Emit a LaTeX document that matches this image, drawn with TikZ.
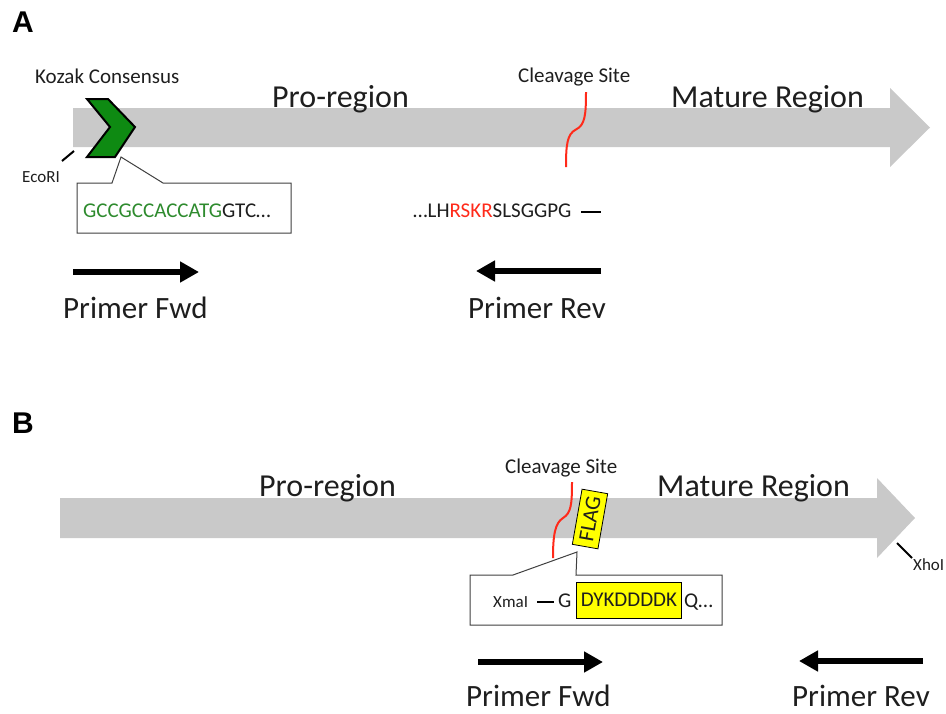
\documentclass[tikz,border=0pt]{standalone}
\usepackage{fontspec}
\setmainfont{Carlito}
\newfontfamily\arialfont{Liberation Sans}
\usetikzlibrary{arrows.meta}
\definecolor{bodygray}{HTML}{C9C9C9}
\definecolor{seqgreen}{HTML}{2E8B2E}
\definecolor{chevgreen}{HTML}{0E8A12}
\definecolor{cutred}{HTML}{FF2A1A}
\definecolor{flagyellow}{HTML}{FFFF00}
\definecolor{txt}{HTML}{1E1E1E}
\newcommand\fsz[1]{\fontsize{#1}{#1}\selectfont}
\tikzset{
  every node/.style={inner sep=0pt, text=txt},
  panel/.style={font=\arialfont\bfseries\fsz{30}, anchor=base west, text=black},
  region/.style={font=\fsz{32}, anchor=base west},
  primerlabel/.style={font=\fsz{31}, anchor=base west},
  midlabel/.style={font=\fsz{21}, anchor=base west},
  tinylabel/.style={font=\fsz{17}, anchor=base west},
  gene/.style={fill=bodygray, draw=none},
  primer/.style={line width=5.5pt, -{Triangle[length=19pt,width=20pt]}},
  cut/.style={cutred, line width=2pt},
  callout/.style={draw=black!75, line width=1pt, fill=white},
  chevron/.style={fill=chevgreen, draw=black, line width=2pt, line join=miter},
  tick/.style={line width=2pt, black},
  tagbox/.style={fill=flagyellow, draw=black, line width=0.8pt, font=\fsz{21}},
}
\begin{document}
\begin{tikzpicture}[x=1pt,y=-1pt]
\useasboundingbox (0,0) rectangle (946,713);

% ---------------- Panel A ----------------
\node[panel] (labA) at (12,32) {A};
\path[gene] (73,108) -- (890,108) -- (890,88) -- (930,127.5) -- (890,167) -- (890,147) -- (73,147) -- cycle;
\node[region] (proA) at (272,107) {Pro-region};
\node[region] (matA) at (671,107) {Mature Region};
\node[midlabel] (kozak) at (35,83) {Kozak Consensus};
\node[midlabel] (cleavA) at (518,82) {Cleavage Site};

% callout A
\draw[callout] (77,183) -- (112,183) -- (121,157) -- (163,183) -- (291,183) -- (291,233) -- (77,233) -- cycle;
\node[midlabel] (seqA) at (83,217) {\textcolor{seqgreen}{GCCGCCACCATG}GTC\ldots};

% chevron (Kozak)
\draw[chevron] (87,99) -- (108,99) -- (135,127) -- (115,157) -- (87,157) -- (110,127) -- cycle;

% EcoRI
\node[tinylabel] (ecori) at (22,182) {EcoRI};
\coordinate (ecoA) at (62,161);
\coordinate (ecoB) at (74,151);
\draw[tick] (ecoA) -- (ecoB);

% cleavage line A
\coordinate (cutAtop) at (586,92);
\coordinate (cutAbot) at (566,167);
\draw[cut] (cutAtop) .. controls (586,115) and (585,125) .. (576,129.5) .. controls (567,134) and (566,145) .. (cutAbot);

% sequence A
\node[midlabel] (pepA) at (413,217) {\ldots LH\textcolor{cutred}{RSKR}SLSGGPG};
\coordinate (dashAl) at (581,212);
\coordinate (dashAr) at (601,212);
\draw[tick] (dashAl) -- (dashAr);

% primers A
\coordinate (pfA1) at (73,272);
\coordinate (pfA2) at (199,272);
\draw[primer] (pfA1) -- (pfA2);
\node[primerlabel] (pfAlab) at (63,318) {Primer Fwd};
\coordinate (prA1) at (601,271);
\coordinate (prA2) at (476,271);
\draw[primer] (prA1) -- (prA2);
\node[primerlabel] (prAlab) at (468,318) {Primer Rev};

% ---------------- Panel B ----------------
\node[panel] (labB) at (12,433) {B};
\path[gene] (60,498) -- (877,498) -- (877,478) -- (915,518) -- (877,558) -- (877,538) -- (60,538) -- cycle;
\node[region] (proB) at (259,496) {Pro-region};
\node[region] (matB) at (657,496) {Mature Region};
\node[midlabel] (cleavB) at (505,473) {Cleavage Site};

% cleavage line B
\coordinate (cutBtop) at (572,482);
\coordinate (cutBbot) at (553,558);
\draw[cut] (cutBtop) .. controls (572,505) and (571,513) .. (563,518) .. controls (555,523) and (553,535) .. (cutBbot);

% FLAG tag
\node[tagbox, rotate=80, minimum width=56pt, minimum height=26pt, font=\fsz{22}] (flag) at (590,519) {FLAG};

% callout B
\draw[callout] (470,575) -- (513,575) -- (577,552) -- (576,575) -- (722,575) -- (722,625) -- (470,625) -- cycle;
\node[tinylabel] (xmai) at (493,607) {XmaI};
\coordinate (dashBl) at (537,602);
\coordinate (dashBr) at (554,602);
\draw[tick] (dashBl) -- (dashBr);
\node[midlabel] (gB) at (558,607) {G};
\node[tagbox, minimum width=105pt, minimum height=36pt, anchor=west] (dyk) at (576,600) {DYKDDDDK};
\node[midlabel] (qB) at (684,607) {Q\ldots};

% XhoI
\coordinate (xhoA) at (897,543);
\coordinate (xhoB) at (912,558);
\draw[tick] (xhoA) -- (xhoB);
\node[tinylabel] (xhoi) at (913,570) {XhoI};

% primers B
\coordinate (pfB1) at (478,662);
\coordinate (pfB2) at (603,662);
\draw[primer] (pfB1) -- (pfB2);
\node[primerlabel] (pfBlab) at (466,706) {Primer Fwd};
\coordinate (prB1) at (923,661);
\coordinate (prB2) at (799,661);
\draw[primer] (prB1) -- (prB2);
\node[primerlabel] (prBlab) at (792,706) {Primer Rev};
\end{tikzpicture}
\end{document}
